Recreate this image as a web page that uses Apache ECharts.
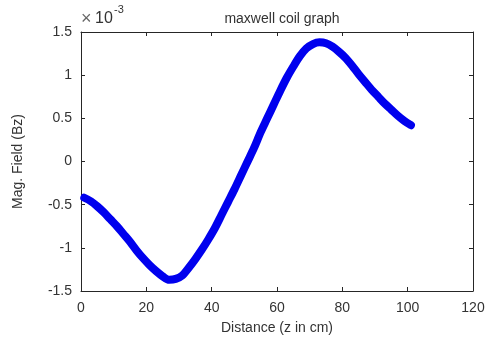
<!DOCTYPE html>
<html>
<head>
<meta charset="utf-8">
<script src="https://cdn.jsdelivr.net/npm/echarts@6/dist/echarts.min.js"></script>
<style>
  html, body { margin: 0; padding: 0; background: #fff; }
  #chart { width: 490px; height: 350px; }
</style>
</head>
<body>
<div id="chart"></div>
<script>
// distance along axis, cm
const distance = [1, 3, 5, 7, 9, 11, 13, 15, 17, 19, 21, 23, 25, 27, 29, 31, 33, 35, 37, 39, 41, 43, 45, 47, 49, 51,
  53, 55, 57, 59, 61, 63, 65, 67, 69, 71, 73, 75, 77, 79, 81, 83, 85, 87, 89, 91, 93, 95, 97, 99, 101];
// Bz, in units of 1e-3 (shown as "x10^-3" above the axis)
const bz = [-0.42, -0.46, -0.52, -0.59, -0.67, -0.75, -0.84, -0.93, -1.03, -1.12, -1.20, -1.27, -1.33, -1.37, -1.36,
  -1.32, -1.23, -1.13, -1.02, -0.90, -0.77, -0.62, -0.47, -0.32, -0.16, 0.00,
  0.16, 0.34, 0.50, 0.66, 0.82, 0.97, 1.10, 1.22, 1.31, 1.36, 1.38, 1.37, 1.33, 1.27, 1.20, 1.11, 1.01, 0.92,
  0.83, 0.75, 0.67, 0.60, 0.53, 0.47, 0.42];

const xTicks = { min: 0, max: 120, interval: 20 };
const yTicks = { min: -1.5, max: 1.5, interval: 0.5 };

const textColor = "#333";
const lineColor = "#262626";
const font = "Liberation Sans, Arial, sans-serif";

const chart = echarts.init(document.getElementById("chart"));

const baseAxis = {
  axisLine: { show: true, onZero: false, lineStyle: { color: lineColor, width: 1 } },
  axisTick: { show: true, inside: true, length: 4, lineStyle: { color: lineColor } },
  splitLine: { show: false },
};

chart.setOption({
  animation: false,
  title: {
    text: "maxwell coil graph",
    left: 277,
    top: 7,
    textAlign: "center",
    textStyle: { color: textColor, fontSize: 14, fontWeight: "normal", fontFamily: font },
  },
  grid: { left: 81, right: 17, top: 32, bottom: 59 },
  xAxis: [
    {
      ...baseAxis,
      type: "value",
      ...xTicks,
      name: "Distance (z in cm)",
      nameLocation: "middle",
      nameGap: 30,
      nameTextStyle: { color: textColor, fontSize: 14, fontFamily: font },
      axisLabel: { color: textColor, fontSize: 14, fontFamily: font, margin: 10 },
    },
    {
      ...baseAxis,
      type: "value",
      ...xTicks,
      position: "top",
      axisLabel: { show: false },
    },
  ],
  yAxis: [
    {
      ...baseAxis,
      type: "value",
      ...yTicks,
      name: "Mag. Field (Bz)",
      nameLocation: "middle",
      nameGap: 56,
      nameTextStyle: { color: textColor, fontSize: 14, fontFamily: font },
      axisLabel: { color: textColor, fontSize: 14, fontFamily: font, margin: 9 },
    },
    {
      ...baseAxis,
      type: "value",
      ...yTicks,
      position: "right",
      axisLabel: { show: false },
    },
  ],
  graphic: [
    {
      type: "text",
      left: 81,
      top: 10,
      style: { text: "×", fontSize: 18, fill: "#666", fontFamily: font },
    },
    {
      type: "text",
      left: 95,
      top: 11,
      style: { text: "10", fontSize: 16, fill: textColor, fontFamily: font },
    },
    {
      type: "text",
      left: 114,
      top: 4,
      style: { text: "-3", fontSize: 11, fill: textColor, fontFamily: font },
    },
  ],
  series: [
    {
      type: "line",
      data: distance.map((d, i) => [d, bz[i]]),
      smooth: 0.3,
      symbol: "none",
      lineStyle: { color: "#0000ee", width: 8, cap: "round", join: "round" },
    },
  ],
});
</script>
</body>
</html>
